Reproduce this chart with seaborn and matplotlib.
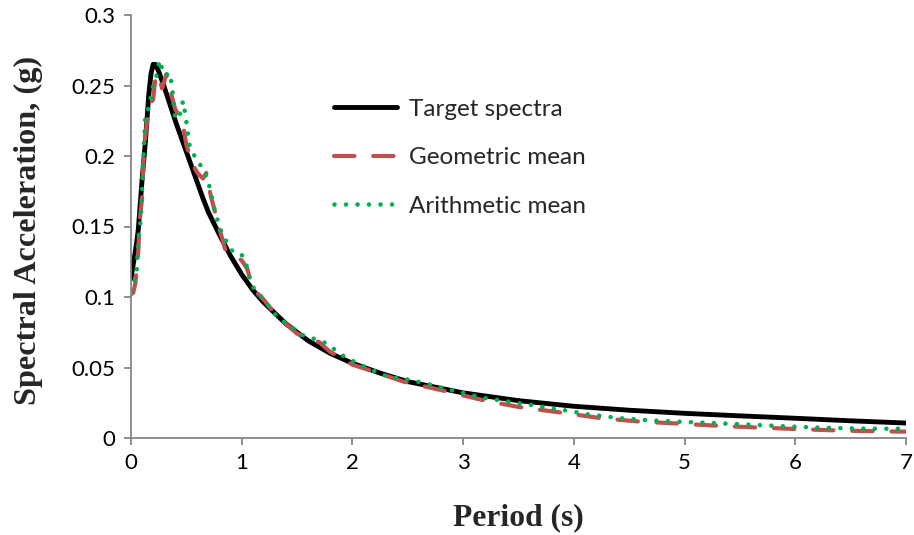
import matplotlib
matplotlib.use("Agg")
import matplotlib.pyplot as plt
import seaborn as sns
import pandas as pd

# ---- data ----
target_T = [0.0, 0.03, 0.05, 0.066, 0.1, 0.13, 0.16, 0.18, 0.2, 0.22, 0.25, 0.3, 0.35, 0.4, 0.45,
            0.5, 0.55, 0.6, 0.65, 0.7, 0.8, 0.9, 1.0, 1.1, 1.2, 1.4, 1.6, 1.8, 2.0, 2.25, 2.5,
            2.75, 3.0, 3.5, 4.0, 4.5, 5.0, 5.5, 6.0, 6.5, 7.0]
target_Sa = [0.113, 0.128, 0.138, 0.148, 0.183, 0.210, 0.243, 0.258, 0.265, 0.265, 0.260, 0.249,
             0.237, 0.225, 0.214, 0.203, 0.192, 0.181, 0.170, 0.160, 0.144, 0.129, 0.116,
             0.105, 0.096, 0.081, 0.069, 0.060, 0.053, 0.046, 0.040, 0.036, 0.032, 0.0265,
             0.0225, 0.0197, 0.0175, 0.0157, 0.014, 0.0122, 0.0106]

geo_T = [0.0, 0.02, 0.04, 0.066, 0.08, 0.1, 0.11, 0.126, 0.15, 0.17, 0.2, 0.22, 0.25, 0.28, 0.32,
         0.35, 0.4, 0.44, 0.47, 0.5, 0.55, 0.6, 0.65, 0.68, 0.72, 0.76, 0.8, 0.85, 0.9, 1.0,
         1.05, 1.1, 1.2, 1.3, 1.4, 1.5, 1.6, 1.7, 1.8, 1.9, 2.0, 2.2, 2.46, 2.8, 3.17, 3.5,
         3.89, 4.25, 4.6, 5.0, 5.34, 5.7, 6.06, 6.43, 6.8, 7.0]
geo_Sa = [0.102, 0.103, 0.110, 0.133, 0.155, 0.170, 0.192, 0.211, 0.228, 0.237, 0.240, 0.255,
          0.258, 0.248, 0.258, 0.248, 0.233, 0.228, 0.222, 0.208, 0.195, 0.188, 0.184, 0.188,
          0.172, 0.160, 0.148, 0.134, 0.130, 0.126, 0.120, 0.106, 0.098, 0.088, 0.081, 0.074,
          0.071, 0.068, 0.061, 0.057, 0.052, 0.047, 0.040, 0.034, 0.027, 0.022, 0.018, 0.014,
          0.0116, 0.010, 0.0085, 0.0073, 0.0062, 0.0052, 0.0047, 0.0045]

ari_T = [0.0, 0.02, 0.05, 0.066, 0.08, 0.09, 0.1, 0.11, 0.13, 0.16, 0.2, 0.23, 0.26, 0.28, 0.31,
         0.35, 0.37, 0.38, 0.4, 0.44, 0.47, 0.49, 0.53, 0.58, 0.64, 0.68, 0.71, 0.76, 0.82,
         0.92, 1.0, 1.05, 1.07, 1.11, 1.18, 1.25, 1.31, 1.39, 1.48, 1.57, 1.67, 1.77, 1.85,
         1.94, 2.05, 2.15, 2.32, 2.54, 2.64, 2.75, 2.85, 2.95, 3.05, 3.15, 3.26, 3.36, 3.47,
         3.57, 3.68, 3.78, 3.89, 4.0, 4.1, 4.42, 4.73, 5.16, 5.47, 5.91, 6.22, 6.65, 7.0]
ari_Sa = [0.104, 0.108, 0.116, 0.140, 0.149, 0.157, 0.176, 0.195, 0.229, 0.234, 0.250, 0.257,
          0.268, 0.262, 0.257, 0.259, 0.250, 0.242, 0.226, 0.229, 0.239, 0.230, 0.207, 0.199,
          0.192, 0.186, 0.178, 0.160, 0.145, 0.132, 0.130, 0.121, 0.114, 0.106, 0.100, 0.093,
          0.087, 0.082, 0.077, 0.072, 0.070, 0.067, 0.062, 0.057, 0.053, 0.049, 0.0435, 0.041,
          0.039, 0.037, 0.0345, 0.033, 0.031, 0.029, 0.0274, 0.0265, 0.025, 0.024, 0.0227,
          0.021, 0.020, 0.0187, 0.017, 0.014, 0.0123, 0.0109, 0.0099, 0.0083, 0.0073, 0.0066,
          0.0066]

series_names = ["Target spectra", "Geometric mean", "Arithmetic mean"]
x_ticks = [0, 1, 2, 3, 4, 5, 6, 7]
y_ticks = [0, 0.05, 0.1, 0.15, 0.2, 0.25, 0.3]
y_tick_labels = ["0", "0.05", "0.1", "0.15", "0.2", "0.25", "0.3"]

# ---- plotting ----
sns.set_theme(style="white")
plt.rcParams["font.family"] = ["Lato", "DejaVu Sans"]

fig = plt.figure(figsize=(9.14, 5.35), dpi=100)
ax = fig.add_axes([131 / 914, 1 - 438 / 535, (906 - 131) / 914, (438 - 15) / 535])

df_t = pd.DataFrame({"T": target_T, "Sa": target_Sa})
df_g = pd.DataFrame({"T": geo_T, "Sa": geo_Sa})
df_a = pd.DataFrame({"T": ari_T, "Sa": ari_Sa})

sns.lineplot(data=df_t, x="T", y="Sa", ax=ax, color="black", lw=3.5,
             label=series_names[0], solid_capstyle="round", solid_joinstyle="round")
sns.lineplot(data=df_g, x="T", y="Sa", ax=ax, color="#C0504D", lw=3.0,
             linestyle=(0, (4.9, 4.5)), dash_capstyle="round", label=series_names[1])
sns.lineplot(data=df_a, x="T", y="Sa", ax=ax, color="#00B050", lw=3.3,
             linestyle=(0, (0.01, 2.5)), dash_capstyle="round", label=series_names[2])

ax.set_xlim(0, 7)
ax.set_ylim(0, 0.3)
ax.set_xticks(x_ticks)
ax.set_xticklabels([str(v) for v in x_ticks])
ax.set_yticks(y_ticks)
ax.set_yticklabels(y_tick_labels)

gray = "#868686"
for s in ["top", "right"]:
    ax.spines[s].set_visible(False)
for s in ["left", "bottom"]:
    ax.spines[s].set_color(gray)
    ax.spines[s].set_linewidth(1.3)
ax.tick_params(axis="both", direction="out", length=5, width=1.3, color=gray,
               labelsize=16, labelcolor="black", pad=6, bottom=True, left=True)

ax.set_xlabel("Period (s)", fontsize=22.7, fontweight="bold",
              family=["Liberation Serif", "DejaVu Serif"])
ax.set_ylabel("Spectral Acceleration, (g)", fontsize=23.2, fontweight="bold",
              family=["Liberation Serif", "DejaVu Serif"])
ax.yaxis.set_label_coords(-0.113, 0.49)
ax.xaxis.set_label_coords(0.5, -0.155)

leg = ax.legend(loc="upper left", bbox_to_anchor=(193 / 775, 1 - 74 / 423), frameon=False,
                fontsize=17.5, handlelength=2.6, handletextpad=0.5, labelspacing=1.13,
                borderaxespad=0)

fig.savefig("out.png", dpi=100)
